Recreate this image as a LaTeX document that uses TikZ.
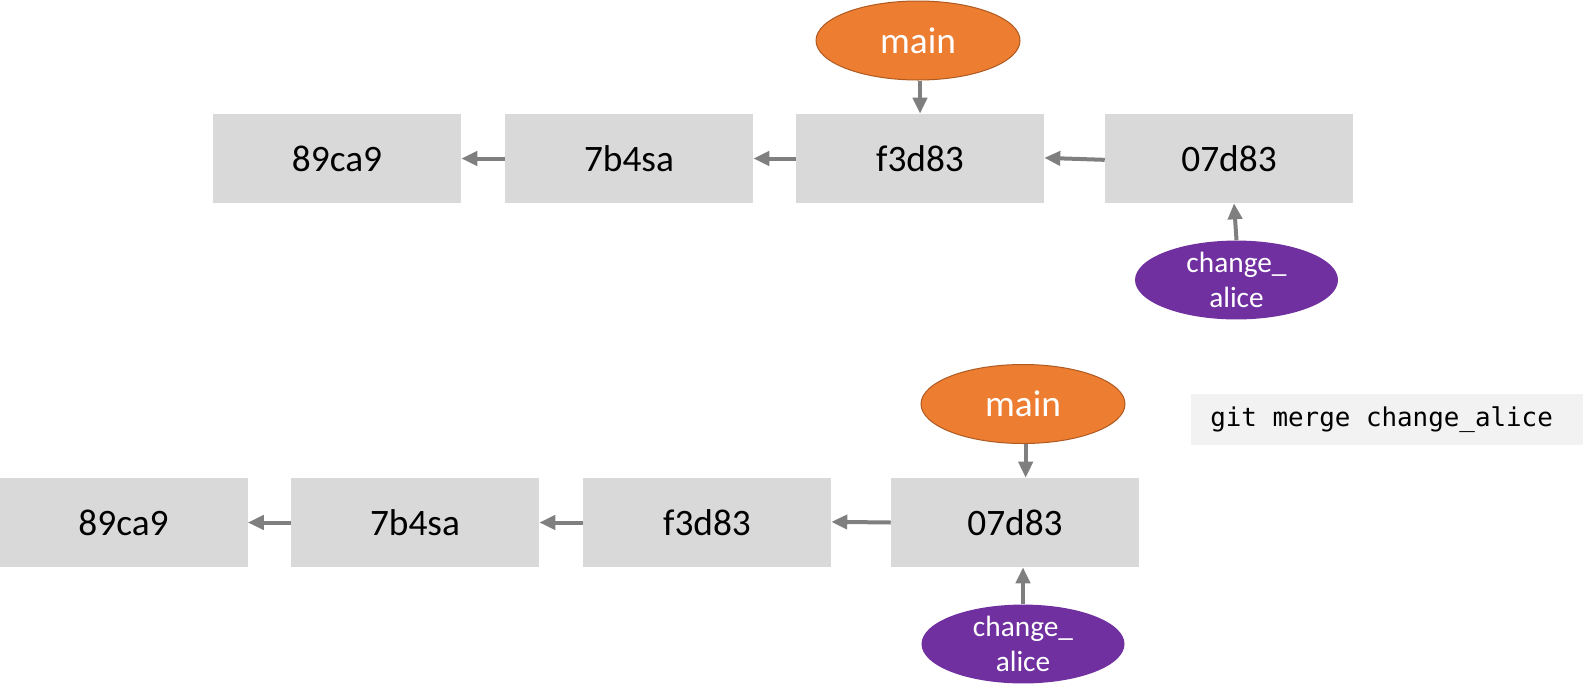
\documentclass[tikz,border=0pt]{standalone}
\usepackage{fontspec}
\setmainfont{Carlito}
\setmonofont{DejaVu Sans Mono}
\definecolor{boxgray}{HTML}{D9D9D9}
\definecolor{arrgray}{HTML}{7F7F7F}
\definecolor{meorange}{HTML}{ED7D31}
\definecolor{meorangedark}{HTML}{AE5A21}
\definecolor{mepurple}{HTML}{7030A0}
\definecolor{codebg}{HTML}{F2F2F2}
\usetikzlibrary{arrows.meta, shapes.geometric}
\tikzset{
	commit/.style={fill=boxgray, minimum width=186pt, minimum height=66.75pt, inner sep=0pt, font=\fontsize{28}{34}\selectfont},
	headref/.style={ellipse, fill=meorange, draw=meorangedark, line width=0.75pt, text=white, minimum width=153pt, minimum height=59.25pt, inner sep=0pt, font=\fontsize{28}{34}\selectfont},
	branchref/.style={ellipse, fill=mepurple, text=white, minimum width=152.25pt, minimum height=58pt, inner sep=0pt, align=center, font=\fontsize{22}{26.4}\selectfont},
	link/.style={draw=arrgray, line width=3pt, -{Triangle[length=12pt, width=10.5pt]}}
}

\begin{document}
\begin{tikzpicture}[x=0.75pt, y=-0.75pt]
	\useasboundingbox (0,0) rectangle (1583,697);
	\node[commit] (ta) at (337,158.5) {89ca9};
	\node[commit] (tb) at (629,158.5) {7b4sa};
	\node[commit] (tc) at (920,158.5) {f3d83};
	\node[commit] (td) at (1229,158.5) {07d83};
	\node[headref] (tmain) at (918,40.5) {main};
	\node[branchref] (talice) at (1236.5,280) {change\_\\alice};
	\draw[link] (tb.west) -- (ta.east);
	\draw[link] (tc.west) -- (tb.east);
	\draw[link] ([yshift=-1pt]td.west) -- ([yshift=0.5pt]tc.east);
	\draw[link] (tmain.south -| tc.north) -- (tc.north);
	\draw[link] (talice.north) -- ([xshift=3.75pt]td.south);
	\node[commit] (ba) at (123.5,522.5) {89ca9};
	\node[commit] (bb) at (415,522.5) {7b4sa};
	\node[commit] (bc) at (707,522.5) {f3d83};
	\node[commit] (bd) at (1015,522.5) {07d83};
	\node[headref] (bmain) at (1023,404) {main};
	\node[branchref] (balice) at (1023,644) {change\_\\alice};
	\node[fill=codebg, minimum width=294pt, minimum height=38.25pt, inner sep=0pt] (cmdbox) at (1387,419.5) {};
	\node[anchor=west, inner sep=0pt, font=\ttfamily\fontsize{19.4}{23}\selectfont] (cmd) at (1210,419.5) {git merge change\_alice};
	\draw[link] (bb.west) -- (ba.east);
	\draw[link] (bc.west) -- (bb.east);
	\draw[link] (bd.west) -- ([yshift=0.5pt]bc.east);
	\draw[link] ([xshift=2pt]bmain.south) -- ([xshift=2pt]bmain.south |- bd.north);
	\draw[link] (balice.north) -- (balice.north |- bd.south);
\end{tikzpicture}
\end{document}
